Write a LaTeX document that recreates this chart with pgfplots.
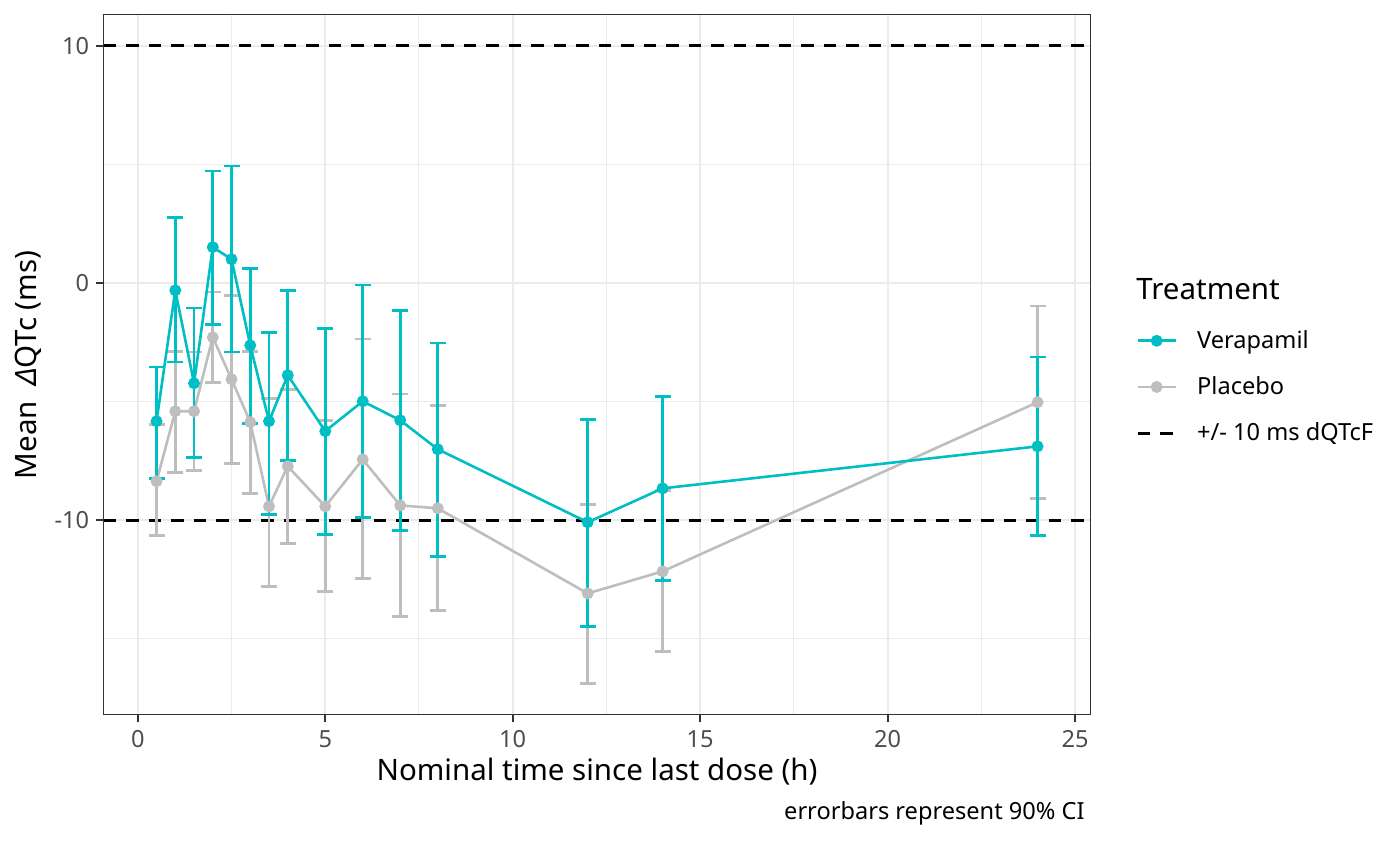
\documentclass[border=0pt]{standalone}
\usepackage{pgfplots}
\pgfplotsset{compat=1.18}
\usepackage{fontspec}
\setmainfont{Noto Sans}
\definecolor{vera}{HTML}{00BFC4}
\definecolor{plac}{HTML}{BEBEBE}
\definecolor{gridc}{HTML}{EBEBEB}
\definecolor{tickc}{HTML}{4D4D4D}
\definecolor{framec}{HTML}{333333}
\newcommand{\smallf}{\fontsize{11.84}{14}\selectfont}
\newcommand{\bigf}{\fontsize{14.8}{17}\selectfont}
\begin{document}
\begin{tikzpicture}
\begin{axis}[
  at={(51.75bp,75.5bp)}, anchor=south west,
  scale only axis, width=493.6bp, height=350bp,
  xmin=-0.915, xmax=25.418, ymin=-18.205, ymax=11.306,
  xtick={0,5,10,15,20,25}, xticklabels={0,5,10,15,20,25},
  ytick={-10,0,10}, yticklabels={-10,0,10},
  minor xtick={2.5,7.5,12.5,17.5,22.5},
  minor ytick={-15,-5,5},
  grid=both,
  major grid style={color=gridc, line width=1bp},
  minor grid style={color=gridc, line width=0.5bp},
  axis line style={color=framec, line width=0.5bp},
  tick style={color=framec, line width=1bp},
  tick align=outside, major tick length=3.5bp, minor tick length=0pt,
  xtick pos=bottom, ytick pos=left,
  ticklabel style={font=\smallf, text=tickc},
  xticklabel style={inner sep=0pt, yshift=-4bp},
  yticklabel style={inner sep=0pt, xshift=-3.5bp},
  xlabel={Nominal time since last dose (h)},
  ylabel={Mean\ \ {\itshape Δ}QTc (ms)},
  label style={font=\bigf},
  xlabel style={at={(axis description cs:0.5,-0.0814)}, anchor=center, inner sep=0pt},
  ylabel style={at={(axis description cs:-0.0765,0.5)}, anchor=center, inner sep=0pt},
  clip=false,
  reverse legend,
  legend style={at={(rel axis cs:1.0457,0.4686)}, anchor=west, draw=none, fill=none,
    font=\smallf, row sep=8.65bp,
    legend cell align=left, inner sep=0pt,
    /tikz/column 1/.style={column sep=8bp}},
  legend image code/.code={\draw[mark repeat=2, mark phase=2, #1] plot coordinates {(0bp,0bp) (9.5bp,0bp) (19bp,0bp)};},
]
\addplot[black, line width=1.5bp, dash pattern=on 6.25bp off 5bp, forget plot] coordinates {(-0.915,10) (25.418,10)};
\addplot[black, line width=1.5bp, dash pattern=on 6.25bp off 5bp] coordinates {(-0.915,-10) (25.418,-10)};
\addlegendentry{+/- 10 ms dQTcF}
\addplot[plac, line width=1.3bp, mark=*, mark size=2.3bp,
  error bars/.cd, y dir=both, y explicit,
  error bar style={line width=1.3bp, plac},
  error mark options={rotate=90, mark size=4bp, line width=1.3bp, plac}]
  table[x=t, y=m, y error plus=ep, y error minus=em] {
t m ep em
0.5 -8.35 2.40 2.28
1 -5.40 2.53 2.57
1.5 -5.40 2.49 2.49
2 -2.28 1.90 1.90
2.5 -4.05 3.54 3.54
3 -5.86 2.99 3.00
3.5 -9.41 4.56 3.37
4 -7.72 3.25 3.25
5 -9.41 3.63 3.59
6 -7.43 5.07 5.02
7 -9.37 4.69 4.68
8 -9.49 4.34 4.31
12 -13.08 3.76 3.80
14 -12.15 3.42 3.38
24 -5.02 4.05 4.05
};
\addlegendentry{Placebo}
\addplot[vera, line width=1.3bp, mark=*, mark size=2.3bp,
  error bars/.cd, y dir=both, y explicit,
  error bar style={line width=1.3bp, vera},
  error mark options={rotate=90, mark size=4bp, line width=1.3bp, vera}]
  table[x=t, y=m, y error plus=ep, y error minus=em] {
t m ep em
0.5 -5.82 2.28 2.41
1 -0.30 3.08 3.03
1.5 -4.22 3.17 3.12
2 1.52 3.21 3.25
2.5 1.01 3.93 3.92
3 -2.62 3.25 3.29
3.5 -5.82 3.75 3.93
4 -3.88 3.58 3.59
5 -6.24 4.34 4.35
6 -4.98 4.90 4.89
7 -5.78 4.64 4.64
8 -7.00 4.47 4.52
12 -10.08 4.34 4.39
14 -8.65 3.88 3.88
24 -6.88 3.76 3.75
};
\addlegendentry{Verapamil}
\node[anchor=west, inner sep=0pt, font=\bigf] at (rel axis cs:1.0459,0.6086) {Treatment};
\node[anchor=east, inner sep=0pt, font=\smallf] at (rel axis cs:0.9942,-0.14) {errorbars represent 90\% CI};
\end{axis}
\pgfresetboundingbox
\path[use as bounding box] (0,0) rectangle (700bp,433bp);
\end{tikzpicture}
\end{document}
